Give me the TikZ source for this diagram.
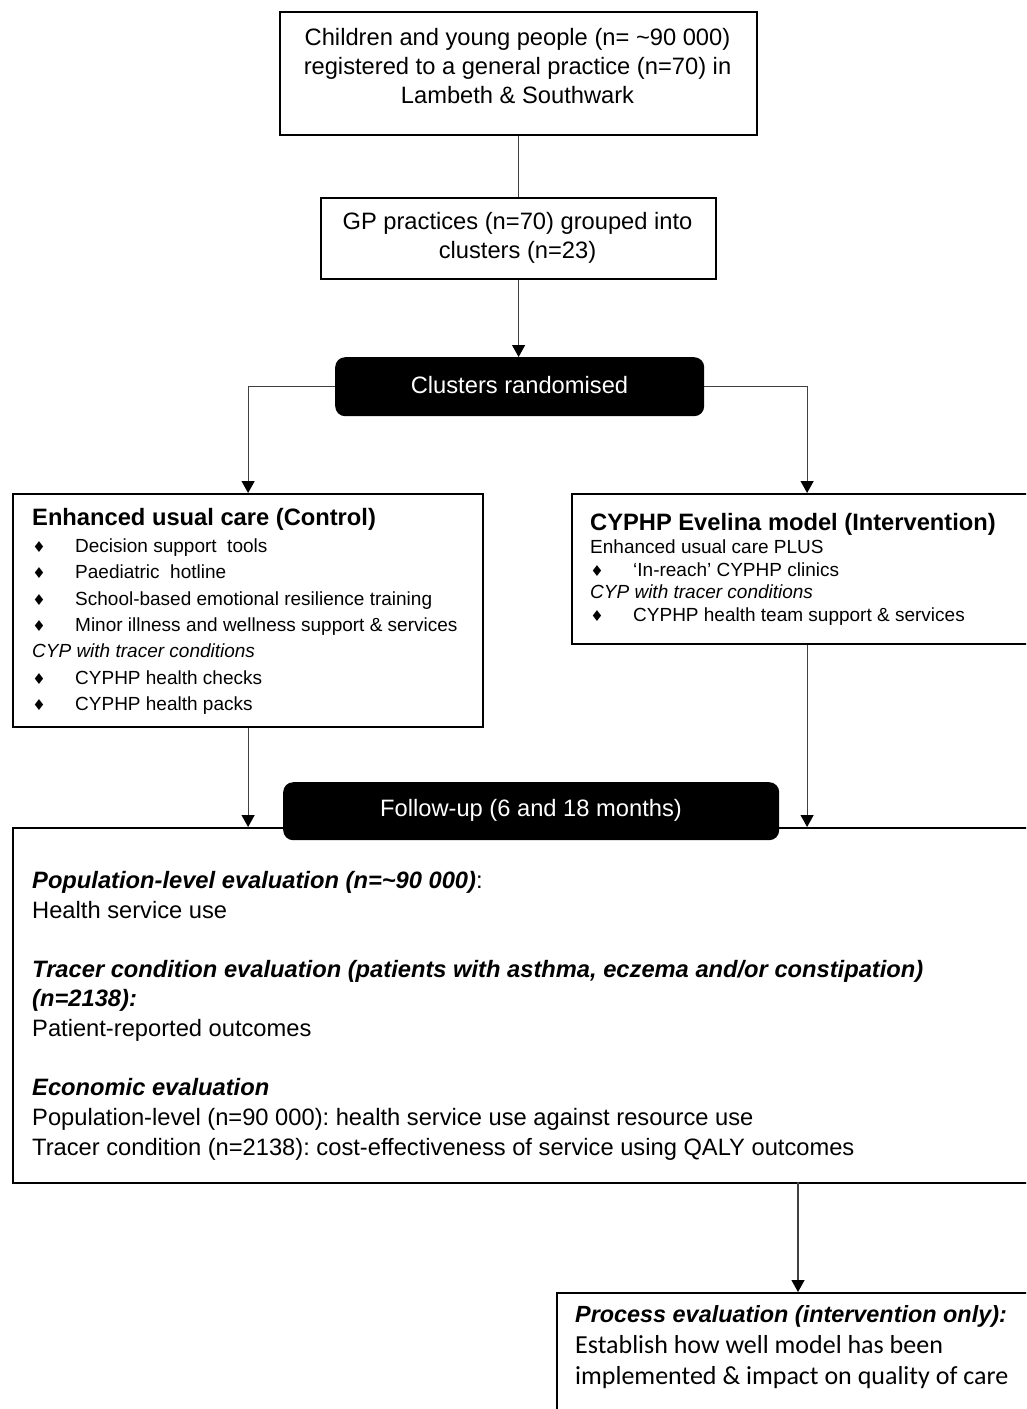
\documentclass[tikz,border=0pt]{standalone}
\usepackage{fontspec}
\setmainfont{Liberation Sans}
\newfontfamily\calfont{Carlito}
\newfontfamily\dejafont{DejaVu Sans}
\usetikzlibrary{arrows.meta}
\frenchspacing
\newcommand{\dmd}{{\dejafont\fontsize{15}{15}\selectfont ♦}}
\begin{document}
\begin{tikzpicture}[x=1pt,y=-1pt,
  box/.style={draw=black, line width=2.2pt, anchor=north west, inner sep=0pt},
  blk/.style={fill=black, rounded corners=10pt, anchor=north west, inner sep=0pt},
  conn/.style={line width=1.2pt, draw=black!75},
  arr/.style={conn, -{Triangle[width=13pt,length=12pt,color=black]}},
  tl/.style={anchor=base west, inner sep=0pt, font=\fontsize{23.7}{28}\selectfont},
  tc/.style={anchor=base, inner sep=0pt, font=\fontsize{23.7}{28}\selectfont},
  sl/.style={anchor=base west, inner sep=0pt, font=\fontsize{19}{23}\selectfont},
  bul/.style={anchor=base, inner sep=0pt},
  wt/.style={tc, text=white}]
\path[use as bounding box] (0,0) rectangle (1026,1409);
\clip (0,0) rectangle (1026,1409);

% boxes
\node[box, minimum width=477pt, minimum height=123pt] (top) at (279,11) {};
\node[box, minimum width=395pt, minimum height=81pt] (gp) at (320,197) {};
\node[blk, minimum width=369pt, minimum height=59pt] (clus) at (335,357) {};
\node[box, minimum width=470pt, minimum height=233pt] (ctrl) at (12,493) {};
\node[box, minimum width=470pt, minimum height=150pt] (intv) at (571,493) {};
\node[box, minimum width=1029pt, minimum height=355pt] (big) at (12,827) {};
\node[blk, minimum width=496pt, minimum height=58pt] (fup) at (283,782) {};
\node[box, minimum width=484pt, minimum height=140pt] (proc) at (556,1292) {};

% connectors
\draw[conn] (top.south) -- (gp.north);
\draw[arr] (gp.south) -- (gp.south |- clus.north);
\draw[arr] (clus.west) -| (ctrl.north);
\draw[arr] (clus.east) -| (intv.north);
\draw[arr] (ctrl.south) -- (ctrl.south |- big.north);
\draw[arr] (intv.south) -- (intv.south |- big.north);
\coordinate (bigout) at (798,1182);
\draw[arr] (bigout) -- (bigout |- proc.north);

% top box text
\node[tc] (a1) at (517.5,45) {Children and young people (n= \textasciitilde 90 000)};
\node[tc] (a2) at (517.5,74) {registered to a general practice (n=70) in};
\node[tc] (a3) at (517.5,103) {Lambeth \& Southwark};

% GP box text
\node[tc] (b1) at (517.5,229) {GP practices (n=70) grouped into};
\node[tc] (b2) at (517.5,258) {clusters (n=23)};

% clusters
\node[wt] (c1) at (519.5,393) {Clusters randomised};

% control
\node[tl, font=\fontsize{23.7}{28}\selectfont\bfseries] (d0) at (32,525) {Enhanced usual care (Control)};
\node[bul] (db1) at (39,552) {\dmd};
\node[sl] (d1) at (75,552) {Decision support\ \ tools};
\node[bul] (db2) at (39,578) {\dmd};
\node[sl] (d2) at (75,578) {Paediatric\ \ hotline};
\node[bul] (db3) at (39,605) {\dmd};
\node[sl] (d3) at (75,605) {School-based emotional resilience training};
\node[bul] (db4) at (39,631) {\dmd};
\node[sl] (d4) at (75,631) {Minor illness and wellness support \& services};
\node[sl, font=\fontsize{19}{23}\selectfont\itshape] (d5) at (32,657) {CYP with tracer conditions};
\node[bul] (db6) at (39,684) {\dmd};
\node[sl] (d6) at (75,684) {CYPHP health checks};
\node[bul] (db7) at (39,710) {\dmd};
\node[sl] (d7) at (75,710) {CYPHP health packs};

% intervention
\node[tl, font=\fontsize{23.7}{28}\selectfont\bfseries] (e0) at (590,530) {CYPHP Evelina model (Intervention)};
\node[sl] (e1) at (590,553) {Enhanced usual care PLUS};
\node[bul] (eb2) at (597,576) {\dmd};
\node[sl] (e2) at (633,576) {‘In-reach’ CYPHP clinics};
\node[sl, font=\fontsize{19}{23}\selectfont\itshape] (e3) at (590,598) {CYP with tracer conditions};
\node[bul] (eb4) at (597,621) {\dmd};
\node[sl] (e4) at (633,621) {CYPHP health team support \& services};

% follow-up
\node[wt] (f1) at (531,816) {Follow-up (6 and 18 months)};

% big box text
\node[tl] (g1) at (32,888) {\textbf{\textit{Population-level evaluation (n=\textasciitilde 90 000)}}:};
\node[tl] (g2) at (32,918) {Health service use};
\node[tl, font=\fontsize{23.7}{28}\selectfont\bfseries\itshape] (g3) at (32,977) {Tracer condition evaluation (patients with asthma, eczema and/or constipation)};
\node[tl, font=\fontsize{23.7}{28}\selectfont\bfseries\itshape] (g4) at (32,1006) {(n=2138):};
\node[tl] (g5) at (32,1036) {Patient-reported outcomes};
\node[tl, font=\fontsize{23.7}{28}\selectfont\bfseries\itshape] (g6) at (32,1095) {Economic evaluation};
\node[tl] (g7) at (32,1125) {Population-level (n=90 000): health service use against resource use};
\node[tl] (g8) at (32,1155) {Tracer condition (n=2138): cost-effectiveness of service using QALY outcomes};

% process
\node[tl, font=\fontsize{23.4}{28}\selectfont\bfseries\itshape] (h1) at (575,1322) {Process evaluation (intervention only):};
\node[tl, font=\fontsize{26}{30}\calfont] (h2) at (575,1353) {Establish how well model has been};
\node[tl, font=\fontsize{26}{30}\calfont] (h3) at (575,1384) {implemented \& impact on quality of care};
\end{tikzpicture}
\end{document}
